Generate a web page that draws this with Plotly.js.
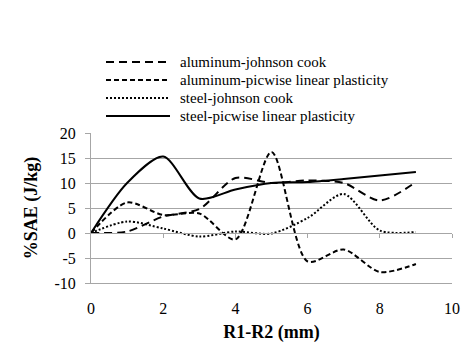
<!DOCTYPE html>
<html>
<head>
<meta charset="utf-8">
<script src="https://cdn.plot.ly/plotly-3.0.1.min.js"></script>
<style>html,body{margin:0;padding:0;background:#fff}#chart{width:462px;height:343px}</style>
</head>
<body>
<div id="chart"></div>
<script>
// Data
const xValues = [0, 1, 2, 3, 4, 5, 6, 7, 8, 9];
const seriesNames = [
  "aluminum-johnson cook",
  "aluminum-picwise linear plasticity",
  "steel-johnson cook",
  "steel-picwise linear plasticity"
];
const aluminumJohnsonCook = [0, 0.3, 3.3, 4.8, 11, 10, 10.5, 10, 6.5, 10.2];
const aluminumPicwise = [0, 6.1, 3.6, 3.9, -1.3, 16.2, -5.7, -3.3, -7.8, -6.2];
const steelJohnsonCook = [0, 2.3, 0.9, -0.7, 0.3, -0.1, 3, 7.8, 0.5, 0.2];
const steelPicwise = [0, 10, 15.3, 6.9, 8.7, 10, 10.2, 10.8, 11.5, 12.2];
const xTicks = [0, 2, 4, 6, 8, 10];
const yTicks = [-10, -5, 0, 5, 10, 15, 20];

const FONT = "Liberation Serif";
const gridColor = "#a6a6a6";

const styles = [
  {dash: "8px,5px", width: 2},
  {dash: "5px,3px", width: 2},
  {dash: "2px,2px", width: 2},
  {dash: "solid", width: 2}
];
const values = [aluminumJohnsonCook, aluminumPicwise, steelJohnsonCook, steelPicwise];

const traces = values.map((v, i) => ({
  x: xValues,
  y: v,
  name: seriesNames[i],
  type: "scatter",
  mode: "lines",
  showlegend: false,
  line: {color: "#000", width: styles[i].width, dash: styles[i].dash, shape: "spline", smoothing: 0.8}
}));

// helper trace for tick marks where the horizontal axis crosses y=0
traces.push({x: [0, 10], y: [0, 0], xaxis: "x2", yaxis: "y", mode: "lines",
  line: {color: "rgba(0,0,0,0)"}, showlegend: false, hoverinfo: "skip"});

// Legend drawn in paper space (plot area 91..452 x 133..283 px)
const W = 462, H = 343, mL = 91, mR = 10, mT = 133, mB = 60;
const pw = W - mL - mR, ph = H - mT - mB;
const px = p => (p - mL) / pw;
const py = p => (H - mB - p) / ph;
const legendRowsY = [62, 80, 98, 116];
const shapes = [];
const annotations = [];
seriesNames.forEach((name, i) => {
  shapes.push({type: "line", xref: "paper", yref: "paper",
    x0: px(106), x1: px(170), y0: py(legendRowsY[i]), y1: py(legendRowsY[i]),
    line: {color: "#000", width: styles[i].width, dash: styles[i].dash}});
  annotations.push({xref: "paper", yref: "paper", x: px(178), y: py(legendRowsY[i]),
    xanchor: "left", yanchor: "middle", showarrow: false, text: name,
    font: {family: FONT, size: 15, color: "#000"}});
});

const layout = {
  width: W,
  height: H,
  margin: {l: mL, r: mR, t: mT, b: mB},
  paper_bgcolor: "#fff",
  plot_bgcolor: "#fff",
  font: {family: FONT, size: 16, color: "#000"},
  showlegend: false,
  shapes: shapes,
  annotations: annotations,
  xaxis: {
    range: [0, 10], tickvals: xTicks, ticktext: xTicks.map(String),
    showgrid: false, zeroline: false, showline: true, linecolor: gridColor, linewidth: 1,
    ticks: "", ticklabelstandoff: 11,
    tickfont: {family: FONT, size: 16},
    title: {text: "<b>R1-R2 (mm)</b>", font: {family: FONT, size: 18}, standoff: 12}
  },
  xaxis2: {
    range: [0, 10], overlaying: "x", anchor: "free", position: 1/3, side: "bottom",
    tickvals: [2, 4, 6, 8, 10], showticklabels: false, ticks: "outside", ticklen: 4,
    tickcolor: gridColor, showgrid: false, zeroline: false, showline: true,
    linecolor: gridColor, linewidth: 1
  },
  yaxis: {
    range: [-10, 20], tickvals: yTicks, ticktext: yTicks.map(String),
    showgrid: true, gridcolor: gridColor, gridwidth: 1, zeroline: false,
    showline: true, linecolor: gridColor, linewidth: 1,
    ticks: "outside", ticklen: 5, tickcolor: gridColor, ticklabelstandoff: 6,
    tickfont: {family: FONT, size: 16},
    title: {text: "<b>%SAE (J/kg)</b>", font: {family: FONT, size: 18}, standoff: 12}
  }
};

Plotly.newPlot("chart", traces, layout, {displayModeBar: false, staticPlot: true});
</script>
</body>
</html>
